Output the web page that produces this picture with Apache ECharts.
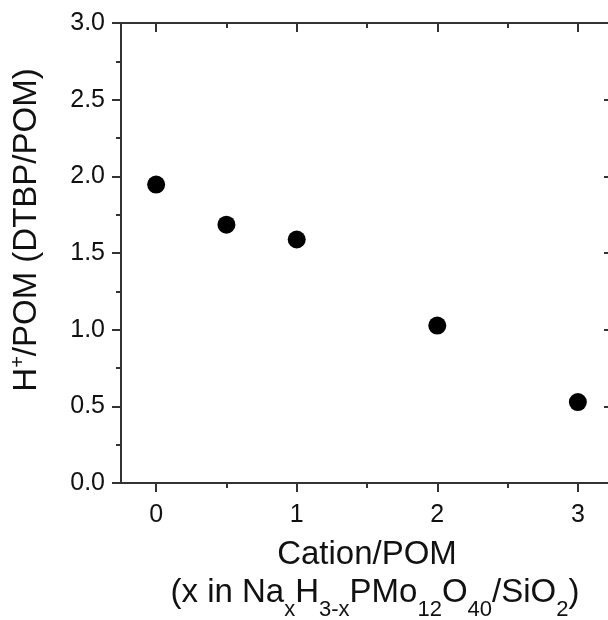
<!DOCTYPE html>
<html><head><meta charset="utf-8">
<script src="https://cdn.jsdelivr.net/npm/echarts@6/dist/echarts.min.js"></script>
<style>html,body{margin:0;padding:0;background:#fff}#c{width:608px;height:620px}</style>
</head><body><div id="c"></div>
<script>
// Data
const cationPerPOM = [0, 0.5, 1, 2, 3];
const hPerPOM = [1.946, 1.685, 1.588, 1.027, 0.528];
const xMajorTicks = [0, 1, 2, 3];
const xMinorTicks = [0.5, 1.5, 2.5];
const xTitle = '{a|Cation/POM}\n{g|}{b|(x in Na}{s|x}{b|H}{s|3-x}{b|PMo}{s|12}{b|O}{s|40}{b|/SiO}{s|2}{b|)}';
const yTitle = '{a|H}{p|+}{a|/POM (DTBP/POM)}';

const FONT = 'Liberation Sans, Arial, sans-serif';
const AX = '#333';
const TXT = '#111';
const chart = echarts.init(document.getElementById('c'), null, {renderer: 'canvas'});

const baseX = {
  type: 'value', min: -0.25, max: 3.25, gridIndex: 0,
  splitLine: {show: false},
  axisLine: {show: false, onZero: false},
  axisLabel: {show: false},
  axisTick: {show: false}
};

chart.setOption({
  animation: false,
  backgroundColor: '#fff',
  grid: {left: 121, width: 492, top: 23, height: 460, containLabel: false, outerBoundsMode: 'none'},
  xAxis: [
    Object.assign({}, baseX, {
      position: 'bottom',
      axisLine: {show: true, onZero: false, lineStyle: {color: AX, width: 2}},
      axisTick: {show: true, customValues: xMajorTicks, length: 9, lineStyle: {color: AX, width: 2}},
      axisLabel: {show: true, customValues: xMajorTicks, margin: 20, fontSize: 25, color: TXT, fontFamily: FONT,
        formatter: v => String(v)},
      name: xTitle,
      nameLocation: 'middle',
      nameGap: 50,
      nameTextStyle: {
        fontFamily: FONT, color: TXT,
        rich: {
          a: {fontSize: 33, lineHeight: 43, fontFamily: FONT, color: TXT},
          g: {width: 16, fontSize: 33, lineHeight: 45},
          b: {fontSize: 33, lineHeight: 45, verticalAlign: 'top', fontFamily: FONT, color: TXT},
          s: {fontSize: 22, lineHeight: 45, verticalAlign: 'bottom', fontFamily: FONT, color: TXT}
        }
      }
    }),
    Object.assign({}, baseX, {
      position: 'bottom',
      axisTick: {show: true, customValues: xMinorTicks, length: 5, lineStyle: {color: AX, width: 2}}
    }),
    Object.assign({}, baseX, {
      position: 'top',
      axisLine: {show: true, onZero: false, lineStyle: {color: AX, width: 2}},
      axisTick: {show: true, inside: true, customValues: xMajorTicks, length: 9, lineStyle: {color: AX, width: 2}}
    }),
    Object.assign({}, baseX, {
      position: 'top',
      axisTick: {show: true, inside: true, customValues: xMinorTicks, length: 5, lineStyle: {color: AX, width: 2}}
    })
  ],
  yAxis: [
    {
      type: 'value', min: 0, max: 3, interval: 0.5, position: 'left',
      splitLine: {show: false},
      axisLine: {show: true, onZero: false, lineStyle: {color: AX, width: 2}},
      axisTick: {show: true, length: 9, lineStyle: {color: AX, width: 2}},
      minorTick: {show: true, splitNumber: 2, length: 5, lineStyle: {color: AX, width: 2}},
      axisLabel: {margin: 16, fontSize: 25, color: TXT, fontFamily: FONT, formatter: v => v.toFixed(1)},
      name: yTitle,
      nameLocation: 'middle',
      nameRotate: 90,
      nameGap: 75,
      nameTextStyle: {
        fontFamily: FONT, color: TXT,
        padding: [0, 0, 0, 46],
        rich: {
          a: {fontSize: 33, lineHeight: 38, fontFamily: FONT, color: TXT},
          p: {fontSize: 20, lineHeight: 20, verticalAlign: 'top', fontFamily: FONT, color: TXT}
        }
      }
    },
    {
      type: 'value', min: 0, max: 3, interval: 0.5, position: 'right',
      splitLine: {show: false},
      axisLine: {show: true, onZero: false, lineStyle: {color: AX, width: 2}},
      axisTick: {show: true, inside: true, length: 9, lineStyle: {color: AX, width: 2}},
      minorTick: {show: true, splitNumber: 2, length: 5, lineStyle: {color: AX, width: 2}},
      axisLabel: {show: false}
    }
  ],
  series: [{
    type: 'scatter',
    xAxisIndex: 0, yAxisIndex: 0,
    symbol: 'circle',
    symbolSize: 18,
    itemStyle: {color: '#000', opacity: 1},
    data: cationPerPOM.map((x, i) => [x, hPerPOM[i]])
  }]
});
</script>
</body></html>
